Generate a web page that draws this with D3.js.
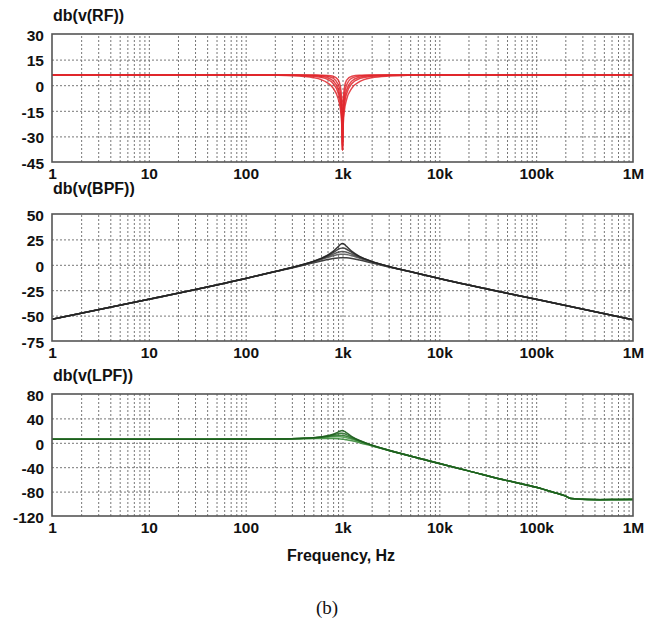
<!DOCTYPE html>
<html><head><meta charset="utf-8">
<script src="https://cdn.jsdelivr.net/npm/d3@7"></script>
<style>body{margin:0;background:#fff} svg{display:block}</style>
</head><body>
<svg id="c" width="655" height="623"></svg>
<script>
// ---------- data ----------
const xTickValues = [1, 10, 100, 1000, 10000, 100000, 1000000];
const xTickLabels = ["1", "10", "100", "1k", "10k", "100k", "1M"];

const rfTicks  = [30, 15, 0, -15, -30, -45];
const bpfTicks = [50, 25, 0, -25, -50, -75];
const lpfTicks = [80, 40, 0, -40, -80, -120];

const rfTitle = "db(v(RF))";
const bpfTitle = "db(v(BPF))";
const lpfTitle = "db(v(LPF))";
const xTitle = "Frequency, Hz";
const caption = "(b)";

// RF (notch) responses, dB
const freqRF = [1, 10, 100, 200, 300, 400, 500, 600, 700, 800, 900, 950, 980, 990, 1000, 1010, 1020, 1050, 1100, 1250, 1500, 2000, 3000, 5000, 10000, 100000, 1000000];
const rfA = [6, 6, 5.96, 5.8, 5.55, 5.1, 4.4, 3.3, 1.4, -1.7, -7.7, -13.8, -21.9, -27.9, -38, -28.0, -22.05, -14.25, -8.5, -1.7, 2.1, 4.4, 5.4, 5.8, 5.96, 6, 6];
const rfB = [6, 6, 6, 5.93, 5.8, 5.6, 5.2, 4.6, 3.4, 1.0, -4.4, -10.35, -18.4, -24.4, -38, -24.5, -18.5, -10.8, -5.2, 1.0, 3.85, 5.2, 5.74, 5.92, 6, 6, 6];
const rfC = [6, 6, 6, 5.95, 5.9, 5.76, 5.54, 5.14, 4.3, 2.5, -2.2, -7.9, -15.9, -21.9, -38, -22.0, -16.05, -8.35, -2.95, 2.5, 4.66, 5.54, 5.85, 5.95, 6, 6, 6];
const rfD = [6, 6, 6, 5.98, 5.95, 5.9, 5.8, 5.6, 5.2, 4.1, 0.57, -4.6, -12.4, -18.4, -38, -18.5, -12.6, -5.0, -0.07, 4.1, 5.36, 5.8, 5.94, 5.98, 6, 6, 6];
const rfE = [6, 6, 6, 6, 5.98, 5.96, 5.92, 5.85, 5.7, 5.2, 3.2, -0.8, -8.07, -14, -38, -14.1, -8.2, -1.16, 2.8, 5.2, 5.76, 5.92, 5.98, 6, 6, 6, 6];

// BPF responses, dB
const freqBPF = [1, 10, 100, 200, 300, 400, 500, 600, 700, 800, 900, 950, 1000, 1050, 1100, 1250, 1500, 2000, 3000, 5000, 10000, 100000, 1000000];
const bpfA = [-53.5, -34, -13.5, -6.8, -3.1, -0.3, 1.9, 3.7, 5.15, 6.2, 6.8, 6.95, 7, 6.96, 6.85, 6.2, 4.7, 1.9, -2.1, -6.8, -13.5, -34, -54];
const bpfB = [-53.5, -34, -13.5, -6.7, -2.8, 0.1, 2.7, 5.0, 7.1, 8.9, 10.1, 10.4, 10.5, 10.4, 10.2, 8.9, 6.4, 2.7, -1.8, -6.7, -13.5, -34, -54];
const bpfC = [-53.5, -34, -13.5, -6.7, -2.75, 0.3, 3.0, 5.6, 8.1, 10.4, 12.3, 12.8, 13.0, 12.9, 12.4, 10.4, 7.25, 3.0, -1.7, -6.7, -13.5, -34, -54];
const bpfD = [-53.5, -34, -13.5, -6.65, -2.7, 0.45, 3.3, 6.0, 8.9, 12.0, 15.1, 16.15, 16.5, 16.2, 15.3, 12.0, 7.9, 3.3, -1.6, -6.65, -13.5, -34, -54];
const bpfE = [-53.5, -34, -13.5, -6.65, -2.7, 0.5, 3.4, 6.3, 9.4, 13.15, 17.7, 20.0, 21.0, 20.05, 18.2, 13.15, 8.3, 3.4, -1.6, -6.65, -13.5, -34, -54];

// LPF responses, dB
const freqLPF = [1, 10, 100, 200, 300, 400, 500, 600, 700, 800, 900, 950, 1000, 1050, 1100, 1250, 1500, 2000, 3000, 5000, 10000, 20000, 50000, 100000, 150000, 200000, 230000, 300000, 450000, 700000, 1000000];
const lpfA = [6, 6, 6.04, 6.17, 6.37, 6.63, 6.9, 7.1, 7.25, 7.1, 6.7, 6.4, 6.0, 5.5, 5.0, 3.3, 0.2, -5.1, -12.6, -21.8, -34, -46, -62, -73, -81, -87, -91.5, -92.6, -93.3, -93, -92.8];
const lpfB = [6, 6, 6.05, 6.3, 6.6, 7.1, 7.7, 8.4, 9.2, 9.8, 10.0, 9.9, 9.5, 9.0, 8.35, 5.95, 1.9, -4.3, -12.3, -21.7, -34, -46, -62, -73, -81, -87, -91.5, -92.8, -93.5, -93.2, -93];
const lpfC = [6, 6, 6.05, 6.3, 6.7, 7.3, 8.0, 9.0, 10.2, 11.4, 12.2, 12.3, 12.0, 11.4, 10.6, 7.5, 2.7, -4.0, -12.2, -21.6, -34, -46, -62, -73, -81, -87, -91.5, -92.6, -93.3, -93, -92.8];
const lpfD = [6, 6, 6.05, 6.3, 6.8, 7.4, 8.3, 9.5, 11.0, 13.0, 15.0, 15.6, 15.5, 14.8, 13.5, 9.1, 3.4, -3.75, -12.1, -21.6, -34, -46, -62, -73, -81, -87, -91.5, -92.4, -93.1, -92.8, -92.6];
const lpfE = [6, 6, 6.05, 6.35, 6.8, 7.5, 8.4, 9.7, 11.5, 14.1, 17.6, 19.4, 20.0, 18.6, 16.3, 10.2, 3.8, -3.6, -12.1, -21.6, -34, -46, -62, -73, -81, -87, -91.5, -92.6, -93.3, -93, -92.8];

const rfColors  = ["#e0262c", "#e0262c", "#e0262c", "#e0262c", "#e0262c"];
const bpfColors = ["#2a2a2a", "#5a5a5a", "#4a4a4a", "#3a3a3a", "#222222"];
const lpfColors = ["#3c8c3c", "#4a9a4a", "#2f7a2f", "#2a6f2a", "#1d5e1d"];

// ---------- drawing ----------
const svg = d3.select("#c");
const L = 52, R = 633;
const x = d3.scaleLog().domain([1, 1e6]).range([L, R]);

const gridX = [];
for (let d = 0; d < 6; d++) {
  for (let k = 1; k <= 9; k++) {
    const v = k * Math.pow(10, d);
    if (v > 1 && v < 1e6) gridX.push(v);
  }
}

const font = "'Liberation Sans', Arial, Helvetica, sans-serif";

function panel(cfg) {
  const y = d3.scaleLinear().domain([cfg.ticks[cfg.ticks.length - 1], cfg.ticks[0]]).range([cfg.bottom, cfg.top]);
  const g = svg.append("g");
  const h = cfg.bottom - cfg.top;

  // vertical grid
  const gx = g.append("g").attr("transform", `translate(0,${cfg.bottom})`)
    .call(d3.axisBottom(x).tickValues(gridX).tickSize(-h).tickFormat(""));
  gx.select(".domain").remove();
  gx.selectAll("line").attr("stroke", "#777").attr("stroke-width", 1).attr("stroke-dasharray", "2,2");

  // horizontal grid
  const gy = g.append("g").attr("transform", `translate(${L},0)`)
    .call(d3.axisLeft(y).tickValues(cfg.ticks.slice(1, -1)).tickSize(-(R - L)).tickFormat(""));
  gy.select(".domain").remove();
  gy.selectAll("line").attr("stroke", "#777").attr("stroke-width", 1).attr("stroke-dasharray", "2,2");

  // clip
  const cid = "clip" + cfg.id;
  svg.append("clipPath").attr("id", cid).append("rect")
    .attr("x", L).attr("y", cfg.top).attr("width", R - L).attr("height", h);

  const line = d3.line().x(d => x(d[0])).y(d => y(d[1])).curve(d3.curveMonotoneX);
  const lg = g.append("g").attr("clip-path", `url(#${cid})`);
  cfg.series.forEach((s, i) => {
    lg.append("path")
      .datum(cfg.freq.map((f, j) => [f, s[j]]))
      .attr("d", line)
      .attr("fill", "none")
      .attr("stroke", cfg.colors[i])
      .attr("stroke-width", cfg.width)
      .attr("stroke-opacity", cfg.opacity);
  });

  // frame
  g.append("rect").attr("x", L).attr("y", cfg.top).attr("width", R - L).attr("height", h)
    .attr("fill", "none").attr("stroke", "#555").attr("stroke-width", 1.6);

  // y tick labels
  const ya = g.append("g").attr("transform", `translate(${L},0)`)
    .call(d3.axisLeft(y).tickValues(cfg.ticks).tickSize(0).tickPadding(8).tickFormat(d => String(d)));
  ya.select(".domain").remove();
  ya.selectAll("text").attr("font-family", font).attr("font-weight", "bold")
    .attr("font-size", 15.5).attr("fill", "#111").attr("dy", "0.4em");

  // x tick labels
  const xa = g.append("g").attr("transform", `translate(0,${cfg.bottom})`)
    .call(d3.axisBottom(x).tickValues(xTickValues).tickSize(0).tickPadding(6)
      .tickFormat((d, i) => xTickLabels[i]));
  xa.select(".domain").remove();
  xa.selectAll("text").attr("font-family", font).attr("font-weight", "bold")
    .attr("font-size", 15.5).attr("fill", "#111");

  // title
  g.append("text").attr("x", 53).attr("y", cfg.titleY).text(cfg.title)
    .attr("font-family", font).attr("font-weight", "bold").attr("font-size", 16).attr("fill", "#111");
}

panel({id: 1, top: 34, bottom: 162, ticks: rfTicks, freq: freqRF,
  series: [rfA, rfB, rfC, rfD, rfE], colors: rfColors, width: 1.5, opacity: 0.85,
  title: rfTitle, titleY: 21});
panel({id: 2, top: 214, bottom: 341, ticks: bpfTicks, freq: freqBPF,
  series: [bpfA, bpfB, bpfC, bpfD, bpfE], colors: bpfColors, width: 1.5, opacity: 0.9,
  title: bpfTitle, titleY: 194});
panel({id: 3, top: 394, bottom: 516, ticks: lpfTicks, freq: freqLPF,
  series: [lpfA, lpfB, lpfC, lpfD, lpfE], colors: lpfColors, width: 1.5, opacity: 0.9,
  title: lpfTitle, titleY: 381});

svg.append("text").attr("x", 341).attr("y", 561).attr("text-anchor", "middle").text(xTitle)
  .attr("font-family", font).attr("font-weight", "bold").attr("font-size", 16).attr("fill", "#111");

svg.append("text").attr("x", 327).attr("y", 614).attr("text-anchor", "middle").text(caption)
  .attr("font-family", "'Liberation Serif', 'Times New Roman', serif").attr("font-size", 19).attr("fill", "#111");
</script>
</body></html>
